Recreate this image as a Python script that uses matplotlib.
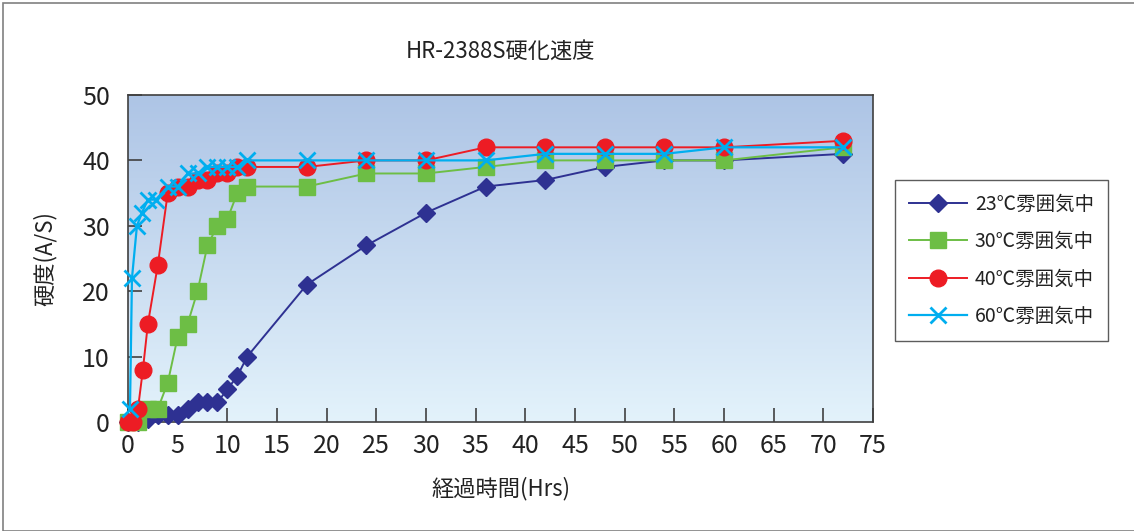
import numpy as np
import matplotlib
matplotlib.use("Agg")
from matplotlib import pyplot as plt
from matplotlib.patches import Rectangle

plt.rcParams["font.family"] = ["Noto Sans CJK JP", "DejaVu Sans"]

# 23℃
t23 = [0, 1, 2, 3, 4, 5, 6, 7, 8, 9, 10, 11, 12, 18, 24, 30, 36, 42, 48, 54, 60, 72]
h23 = [0, 0, 0.5, 1, 1, 1, 2, 3, 3, 3, 5, 7, 10, 21, 27, 32, 36, 37, 39, 40, 40, 41]
# 30℃
t30 = [0, 1, 2, 3, 4, 5, 6, 7, 8, 9, 10, 11, 12, 18, 24, 30, 36, 42, 48, 54, 60, 72]
h30 = [0, 0, 2, 2, 6, 13, 15, 20, 27, 30, 31, 35, 36, 36, 38, 38, 39, 40, 40, 40, 40, 42]
# 40℃
t40 = [0, 0.5, 1, 1.5, 2, 3, 4, 5, 6, 7, 8, 9, 10, 11, 12, 18, 24, 30, 36, 42, 48, 54, 60, 72]
h40 = [0, 0, 2, 8, 15, 24, 35, 36, 36, 37, 37, 38, 38, 39, 39, 39, 40, 40, 42, 42, 42, 42, 42, 43]
# 60℃
t60 = [0.2, 0.4, 0.9, 1.4, 2, 2.8, 4, 5, 6, 7, 8, 9, 10, 11, 12, 18, 24, 30, 36, 42, 48, 54, 60, 72]
h60 = [2, 22, 30, 32, 34, 34, 36, 36, 38, 38, 39, 39, 39, 39, 40, 40, 40, 40, 40, 41, 41, 41, 42, 42]

labels = ["23℃雰囲気中", "30℃雰囲気中", "40℃雰囲気中", "60℃雰囲気中"]

fig = plt.figure(figsize=(11.34, 5.31), dpi=100)
fig.patches.append(Rectangle((0.003, 0.0), 1.2, 0.994, transform=fig.transFigure,
                             fill=False, edgecolor="#808080", linewidth=1.2))
ax = fig.add_axes([128 / 1134, 1 - 422 / 531, 745 / 1134, 327 / 531])

# background gradient
grad = np.linspace(0, 1, 256).reshape(-1, 1)
top = np.array([0.68, 0.77, 0.90])
bottom = np.array([0.89, 0.95, 0.985])
img = top + (bottom - top) * grad[:, :, None]
ax.imshow(img, extent=(0, 1, 0, 1), transform=ax.transAxes, aspect="auto", zorder=0)

ax.plot(t23, h23, color="#2e3192", marker="D", ms=9, lw=1.4, label=labels[0], zorder=3, clip_on=False)
ax.plot(t30, h30, color="#6dbe45", marker="s", ms=12, lw=1.4, label=labels[1], zorder=4, clip_on=False)
ax.plot(t40, h40, color="#ed1c24", marker="o", ms=12, lw=1.4, label=labels[2], zorder=5, clip_on=False)
ax.plot(t60, h60, color="#00aeef", marker="x", ms=12, mew=2, lw=1.6, label=labels[3], zorder=6, clip_on=False)

ax.set_xlim(0, 75)
ax.set_ylim(0, 50)
ax.set_xticks(range(0, 80, 5))
ax.set_yticks(range(0, 60, 10))
ax.tick_params(direction="in", length=10, width=1.2, color="#404040", labelsize=18,
               labelcolor="#222222")
ax.tick_params(axis="x", pad=8)
ax.tick_params(axis="y", pad=13)
for s in ax.spines.values():
    s.set_color("#404040")
    s.set_linewidth(1.2)

ax.set_title("HR-2388S硬化速度", fontsize=16, pad=27, color="#222222")
ax.set_xlabel("経過時間(Hrs)", fontsize=16, labelpad=13, color="#222222")
ax.set_ylabel("硬度(A/S)", fontsize=16, labelpad=18, color="#222222")

leg = fig.legend(loc="upper left", bbox_to_anchor=(895 / 1134, 1 - 180 / 531),
                 fontsize=14, frameon=True, fancybox=False, handlelength=3,
                 labelspacing=0.85, borderpad=0.7, handletextpad=0.4, borderaxespad=0)
leg.get_frame().set_edgecolor("#333333")
leg.get_frame().set_linewidth(1)
for t in leg.get_texts():
    t.set_color("#222222")

plt.savefig("out.png", dpi=100)
